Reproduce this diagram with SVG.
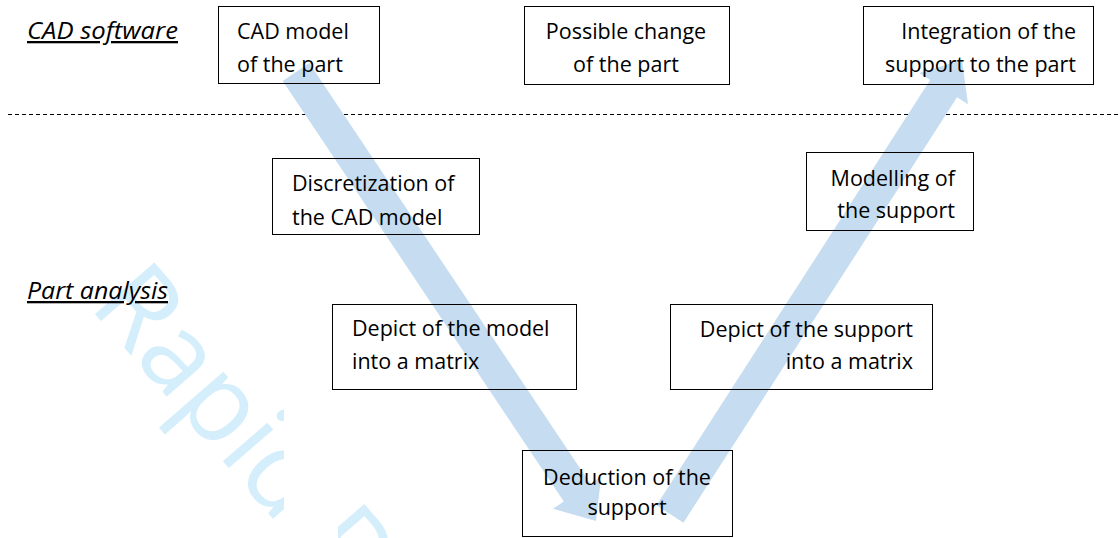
<svg xmlns="http://www.w3.org/2000/svg" width="1120" height="538" viewBox="0 0 1120 538">
<style>
.box{fill:none;stroke:#000;stroke-width:1}
.t{font-family:"Open Sans","Noto Sans",sans-serif;font-size:21.5px;fill:#000}
.lab{font-family:"Open Sans","Noto Sans",sans-serif;font-size:23px;font-style:italic;text-decoration:underline;fill:#000}
.arrow{fill:#c6dcf0;stroke:none}
.wm{font-family:"Open Sans","Noto Sans",sans-serif;font-size:110px;font-weight:500;fill:#d4eefb}
</style>
<defs>
<clipPath id="wmclip"><path clip-rule="evenodd" d="M0 0H1120V538H0Z M284 380H338V538H284Z"/></clipPath>
</defs>
<rect width="1120" height="538" fill="#fff"/>
<g id="watermark" clip-path="url(#wmclip)">
<text class="wm" transform="translate(88 306) rotate(49)">Rapid  P</text>
</g>
<g id="labels">
<text class="lab" x="27" y="39" textLength="151" lengthAdjust="spacingAndGlyphs">CAD software</text>
<text class="lab" x="27" y="299" textLength="141" lengthAdjust="spacingAndGlyphs">Part analysis</text>
<line x1="8" y1="114.5" x2="1120" y2="114.5" stroke="#000" stroke-width="1" stroke-dasharray="4 3"/>
</g>
<g id="connectors">
<polygon class="arrow" points="309.30,63.11 590.41,483.84 601.22,476.62 596,521 553.00,508.84 563.81,501.62 282.70,80.89"/>
<polygon class="arrow" points="656.54,505.34 930.15,79.94 919.22,72.91 962,60 968.00,104.29 957.07,97.26 683.46,522.66"/>
</g>
<g id="n-cad-model">
<rect class="box" x="218.5" y="6.5" width="161" height="77"/>
<text class="t" x="237" y="39">CAD model</text>
<text class="t" x="237" y="72">of the part</text>
</g>
<g id="n-possible-change">
<rect class="box" x="524.5" y="6.5" width="205" height="78"/>
<text class="t" x="626" y="39" text-anchor="middle">Possible change</text>
<text class="t" x="626" y="72" text-anchor="middle">of the part</text>
</g>
<g id="n-integration">
<rect class="box" x="863.5" y="6.5" width="230" height="78"/>
<text class="t" x="1076" y="39" text-anchor="end">Integration of the</text>
<text class="t" x="1076" y="72" text-anchor="end">support to the part</text>
</g>
<g id="n-discretization">
<rect class="box" x="272.5" y="158.5" width="207" height="76"/>
<text class="t" x="292" y="191">Discretization of</text>
<text class="t" x="292" y="225">the CAD model</text>
</g>
<g id="n-modelling">
<rect class="box" x="806.5" y="152.5" width="167" height="78"/>
<text class="t" x="955" y="186" text-anchor="end">Modelling of</text>
<text class="t" x="955" y="218" text-anchor="end">the support</text>
</g>
<g id="n-depict-model">
<rect class="box" x="332.5" y="304.5" width="244" height="85"/>
<text class="t" x="352" y="336">Depict of the model</text>
<text class="t" x="352" y="369">into a matrix</text>
</g>
<g id="n-depict-support">
<rect class="box" x="670.5" y="304.5" width="262" height="85"/>
<text class="t" x="913" y="337" text-anchor="end">Depict of the support</text>
<text class="t" x="913" y="369" text-anchor="end">into a matrix</text>
</g>
<g id="n-deduction">
<rect class="box" x="522.5" y="450.5" width="210" height="86"/>
<text class="t" x="627" y="485" text-anchor="middle">Deduction of the</text>
<text class="t" x="627" y="515" text-anchor="middle">support</text>
</g>
</svg>
